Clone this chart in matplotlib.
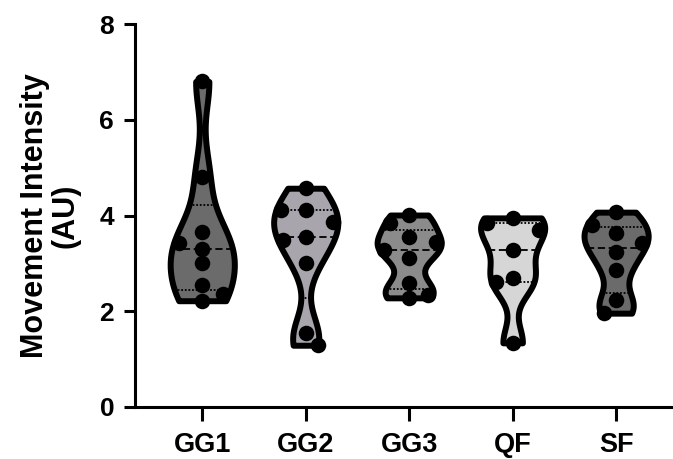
import numpy as np
import matplotlib.pyplot as plt

plt.rcParams['font.family'] = ['Liberation Sans', 'DejaVu Sans']
plt.rcParams['font.weight'] = 'bold'

grupos = ['GG1', 'GG2', 'GG3', 'QF', 'SF']
gg1 = [6.80, 4.80, 3.65, 3.42, 3.30, 3.00, 2.55, 2.35, 2.22]
gg2 = [4.57, 4.11, 4.11, 3.86, 3.55, 3.49, 3.01, 1.55, 1.29]
gg3 = [4.01, 3.84, 3.55, 3.44, 3.28, 3.11, 2.59, 2.34, 2.28]
qf = [3.95, 3.84, 3.70, 3.28, 2.69, 2.61, 1.34]
sf = [4.07, 3.80, 3.63, 3.42, 3.24, 2.86, 2.23, 1.96]
dados = [gg1, gg2, gg3, qf, sf]
cores = ['#6b6b6b', '#a9a5ad', '#8b8b8b', '#d6d6d6', '#6b6b6b']


def densidade(valores, grade, fator=0.4):
    valores = np.asarray(valores)
    h = fator * valores.std(ddof=1)
    z = (grade[:, None] - valores[None, :]) / h
    return np.exp(-0.5 * z ** 2).sum(axis=1)


def enxame(valores, passo, distancia, y, w):
    # cada ponto vai para o centro se couber, senao alterna esquerda/direita
    ordem = np.argsort(valores)[::-1]
    colunas = {}
    desloc = np.zeros(len(valores))
    lado = -1
    for k in ordem:
        livre = lambda c: all(abs(valores[k] - v) >= distancia
                              for v in colunas.get(c, []))
        if livre(0):
            c = 0
        elif livre(lado):
            c = lado
            lado = -lado
        elif livre(-lado):
            c = -lado
        else:
            c = 2 * lado
        colunas.setdefault(c, []).append(valores[k])
        limite = max(np.interp(valores[k], y, w) - 0.05, 0.12)
        desloc[k] = np.clip(c * passo, -limite, limite)
    return desloc


fig = plt.figure(figsize=(6.73, 4.59), dpi=100)
ax = fig.add_axes([0.2006, 0.1133, 0.7994, 0.8344])

for i, (valores, cor) in enumerate(zip(dados, cores)):
    y = np.linspace(min(valores), max(valores), 300)
    d = densidade(valores, y)
    w = d / d.max() * 0.31
    ax.fill_betweenx(y, i - w, i + w, facecolor=cor, edgecolor='black',
                     linewidth=4.3, joinstyle='round', zorder=2)
    q1, med, q3 = np.percentile(valores, [25, 50, 75], method='weibull')
    for q, estilo in [(q1, (0, (1, 1))), (med, (0, (4, 2))), (q3, (0, (1, 1)))]:
        wq = np.interp(q, y, w)
        ax.plot([i - wq, i + wq], [q, q], color='black', linestyle=estilo,
                linewidth=1.3, zorder=3)
    dx = enxame(np.array(valores), 0.26, 0.28, y, w)
    ax.scatter(i + dx, valores, s=125, color='black', zorder=4, linewidths=0)

ax.set_xlim(-0.65, 4.55)
ax.set_ylim(0, 8)
ax.set_yticks([0, 2, 4, 6, 8])
ax.set_xticks(range(len(grupos)))
ax.set_xticklabels(grupos, fontsize=19.5, fontweight='bold')
ax.tick_params(axis='y', labelsize=19, width=2.2, length=8, pad=7)
ax.tick_params(axis='x', width=2.2, length=10, pad=8)
for s in ['top', 'right']:
    ax.spines[s].set_visible(False)
for s in ['left', 'bottom']:
    ax.spines[s].set_linewidth(2.2)
ax.set_ylabel('Movement Intensity\n(AU)', fontsize=22, fontweight='bold',
              linespacing=1.0)
ax.yaxis.set_label_coords(-0.102, 0.5)

fig.savefig('out.png', dpi=100)
